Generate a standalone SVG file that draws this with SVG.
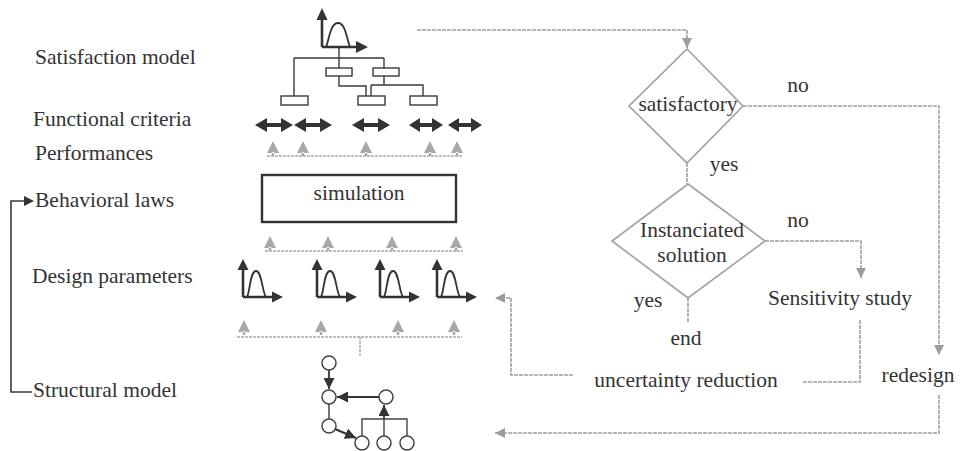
<svg xmlns="http://www.w3.org/2000/svg" xmlns:xlink="http://www.w3.org/1999/xlink" width="964" height="451" viewBox="0 0 964 451">
  <style>
    .lbl { font-family: "Liberation Serif", "Times New Roman", serif; font-size: 21.5px; fill: #333; }
    .mid { text-anchor: middle; }
    .flow { fill: none; stroke: #a0a0a0; stroke-width: 1.6; stroke-dasharray: 4 1; }
    .dia { fill: #fff; stroke: #a0a0a0; stroke-width: 1.6; }
    .ink { fill: none; stroke: #3a3a3a; stroke-width: 1.4; }
    .box { fill: #fff; stroke: #3a3a3a; stroke-width: 1.4; }
    .node { fill: #fff; stroke: #444; stroke-width: 1.5; }
    .dbl { fill: #333; }
    .perf { fill: #a8a8a8; }
    .rail { stroke: #a8a8a8; stroke-width: 1.4; stroke-dasharray: 3 1; }
  </style>
  <defs>
    <marker id="ga" viewBox="0 0 10 10" refX="10" refY="5" markerWidth="10" markerHeight="10" markerUnits="userSpaceOnUse" orient="auto">
      <path d="M0,0 L10,5 L0,10 Z" fill="#9c9c9c"/>
    </marker>
    <marker id="da" viewBox="0 0 10 10" refX="10" refY="5" markerWidth="11" markerHeight="11" markerUnits="userSpaceOnUse" orient="auto">
      <path d="M0,0 L10,5 L0,10 Z" fill="#333"/>
    </marker>
    <!-- probability-density icon: origin at the axis corner -->
    <g id="pdf">
      <path d="M0,0 V-28 M0,0 H30" fill="none" stroke="#333" stroke-width="2.6"/>
      <path d="M0,-38 L-5.5,-27 L5.5,-27 Z M40,0 L29,-5.5 L29,5.5 Z" fill="#333"/>
      <path d="M4,0 C7,-5 7,-26 13,-26 C19,-26 19,-5 23,0" fill="none" stroke="#333" stroke-width="1.8"/>
    </g>
    <!-- small grey up-arrow -->
    <path id="up" d="M0,-15 L-6,-3 L6,-3 Z M-1.2,-4 H1.2 V0 H-1.2 Z"/>
  </defs>

  <!-- left-hand labels -->
  <g id="labels">
    <text class="lbl" x="35" y="64">Satisfaction model</text>
    <text class="lbl" x="33" y="126">Functional criteria</text>
    <text class="lbl" x="35" y="160">Performances</text>
    <text class="lbl" x="35" y="207">Behavioral laws</text>
    <text class="lbl" x="32" y="283">Design parameters</text>
    <text class="lbl" x="33" y="397">Structural model</text>
  </g>

  <!-- bracket from structural model back to behavioral laws -->
  <g id="bracket">
    <path d="M32,392 H11 V201 H24" fill="none" stroke="#3a3a3a" stroke-width="1.6"/>
    <path d="M34,201 L24,196 L24,206 Z" fill="#333"/>
  </g>

  <!-- satisfaction model: aggregation tree -->
  <g id="satisfaction-model">
    <path d="M322,47 V19 M322,47 H356" fill="none" stroke="#333" stroke-width="2.6"/>
    <path d="M322,8 L316.5,20 L327.5,20 Z M368,47 L356,41 L356,53 Z" fill="#333"/>
    <path d="M326,47 C329,41 330,23 338,23 C346,23 347,41 350,47" fill="none" stroke="#333" stroke-width="1.8"/>
    <path class="ink" d="M339,48 V58 M294,58 H384 M294,58 V96 M339,58 V68 M384,58 V68"/>
    <path class="ink" d="M339,76 V86 H366 V96 M384,76 V85 M371,85 H423 V96 M371,85 V96"/>
    <rect class="box" x="326" y="68" width="26" height="8"/>
    <rect class="box" x="373" y="68" width="26" height="8"/>
    <rect class="box" x="281" y="96" width="27" height="9"/>
    <rect class="box" x="358" y="96" width="27" height="9"/>
    <rect class="box" x="410" y="96" width="27" height="9"/>
  </g>

  <!-- functional criteria -->
  <g id="functional-criteria">
    <path class="dbl" d="M255,125 L267,118 V123 H281 V118 L293,125 L281,132 V127 H267 V132 Z"/>
    <path class="dbl" d="M294,125 L306,118 V123 H320 V118 L332,125 L320,132 V127 H306 V132 Z"/>
    <path class="dbl" d="M352,125 L364,118 V123 H378 V118 L390,125 L378,132 V127 H364 V132 Z"/>
    <path class="dbl" d="M409,125 L420,118 V123 H432 V118 L443,125 L432,132 V127 H420 V132 Z"/>
    <path class="dbl" d="M448,125 L459,118 V123 H471 V118 L482,125 L471,132 V127 H459 V132 Z"/>
  </g>

  <!-- performances -->
  <g id="performances" class="perf">
    <line class="rail" x1="267" y1="156" x2="463" y2="156"/>
    <use xlink:href="#up" x="273" y="156"/>
    <use xlink:href="#up" x="303" y="156"/>
    <use xlink:href="#up" x="366" y="156"/>
    <use xlink:href="#up" x="430" y="156"/>
    <use xlink:href="#up" x="457" y="156"/>
  </g>

  <!-- simulation -->
  <g id="simulation">
    <rect x="262" y="175" width="194" height="47" fill="#fff" stroke="#333" stroke-width="2.4"/>
    <text class="lbl mid" x="359" y="200">simulation</text>
  </g>

  <!-- behavioral laws inputs -->
  <g id="behavior-inputs" class="perf">
    <line class="rail" x1="265" y1="251" x2="463" y2="251"/>
    <use xlink:href="#up" x="270" y="251"/>
    <use xlink:href="#up" x="328" y="251"/>
    <use xlink:href="#up" x="392" y="251"/>
    <use xlink:href="#up" x="456" y="251"/>
  </g>

  <!-- design parameters -->
  <g id="design-parameters">
    <use xlink:href="#pdf" x="243" y="297"/>
    <use xlink:href="#pdf" x="317" y="297"/>
    <use xlink:href="#pdf" x="380" y="297"/>
    <use xlink:href="#pdf" x="437" y="297"/>
  </g>

  <!-- structural model inputs -->
  <g id="structure-inputs" class="perf">
    <line class="rail" x1="237" y1="337" x2="462" y2="337"/>
    <line class="rail" x1="360" y1="337" x2="360" y2="357"/>
    <use xlink:href="#up" x="244" y="335"/>
    <use xlink:href="#up" x="321" y="335"/>
    <use xlink:href="#up" x="398" y="335"/>
    <use xlink:href="#up" x="454" y="335"/>
  </g>

  <!-- structural model graph -->
  <g id="structural-model">
    <path d="M329,370 V389" fill="none" stroke="#333" stroke-width="1.8" marker-end="url(#da)"/>
    <path d="M379,397 H337" fill="none" stroke="#333" stroke-width="2" marker-end="url(#da)"/>
    <path d="M329,404 V419" fill="none" stroke="#444" stroke-width="1.5"/>
    <path d="M335,429 L356,438" fill="none" stroke="#333" stroke-width="2" marker-end="url(#da)"/>
    <path d="M362,436 V419 H407 V436 M384,436 V419" fill="none" stroke="#444" stroke-width="1.4"/>
    <path d="M384,419 V405" fill="none" stroke="#333" stroke-width="1.8" marker-end="url(#da)"/>
    <circle class="node" cx="329" cy="363" r="7"/>
    <circle class="node" cx="329" cy="397" r="7"/>
    <circle class="node" cx="386" cy="397" r="7"/>
    <circle class="node" cx="329" cy="426" r="7"/>
    <circle class="node" cx="362" cy="443" r="7"/>
    <circle class="node" cx="384" cy="443" r="7"/>
    <circle class="node" cx="407" cy="443" r="7"/>
  </g>

  <!-- decision flow connectors -->
  <g id="connectors">
    <path class="flow" d="M417,30 H687 V48" marker-end="url(#ga)"/>
    <path class="flow" d="M743,106 H939 V355" marker-end="url(#ga)"/>
    <path class="flow" d="M687,163 V184"/>
    <path class="flow" d="M765,241 H861 V278" marker-end="url(#ga)"/>
    <path class="flow" d="M688,298 V323"/>
    <path class="flow" d="M860,320 V382 H802"/>
    <path class="flow" d="M573,375 H511 V298 H495" marker-end="url(#ga)"/>
    <path class="flow" d="M939,395 V433 H495" marker-end="url(#ga)"/>
  </g>

  <g id="satisfactory">
    <path class="dia" d="M687,49 L743,106 L687,163 L629,106 Z"/>
    <text class="lbl mid" x="688" y="111">satisfactory</text>
  </g>

  <g id="instanciated-solution">
    <path class="dia" d="M688,184 L765,241 L688,298 L612,241 Z"/>
    <text class="lbl mid" x="692" y="237">Instanciated</text>
    <text class="lbl mid" x="692" y="262">solution</text>
  </g>

  <g id="branch-labels">
    <text class="lbl mid" x="798" y="92">no</text>
    <text class="lbl mid" x="724" y="171">yes</text>
    <text class="lbl mid" x="798" y="227">no</text>
    <text class="lbl mid" x="648" y="307">yes</text>
  </g>

  <g id="sensitivity-study"><text class="lbl mid" x="840" y="305">Sensitivity study</text></g>
  <g id="end"><text class="lbl mid" x="686" y="345">end</text></g>
  <g id="uncertainty-reduction"><text class="lbl mid" x="686" y="387">uncertainty reduction</text></g>
  <g id="redesign"><text class="lbl mid" x="918" y="382">redesign</text></g>
</svg>
